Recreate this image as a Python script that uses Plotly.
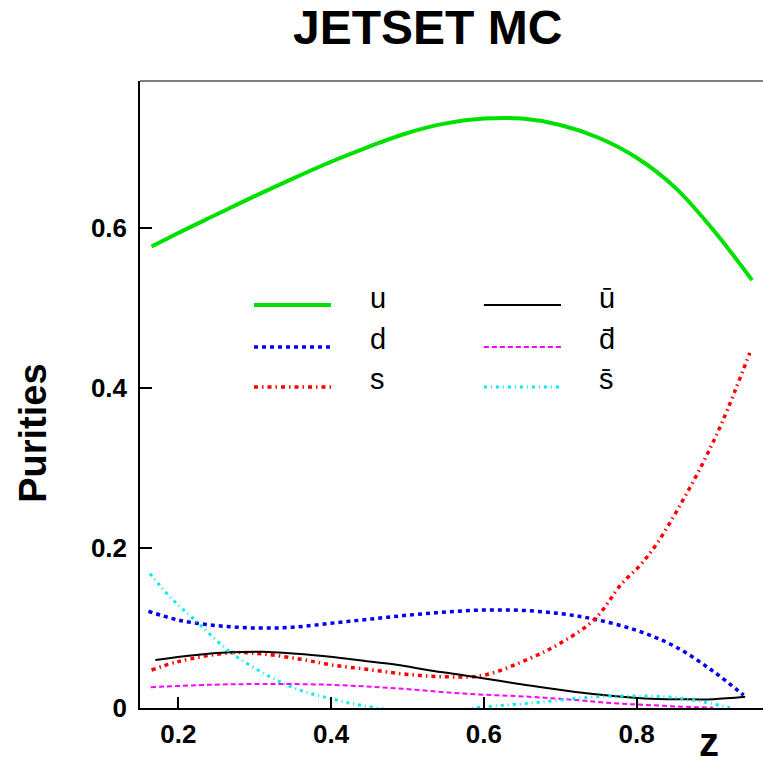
import plotly.graph_objects as go

# ---- data ----
u_x = [0.165, 0.2, 0.25, 0.3, 0.35, 0.4, 0.45, 0.5, 0.55, 0.6, 0.65, 0.7, 0.75, 0.8, 0.85, 0.9, 0.951]
u_y = [0.577, 0.594, 0.617, 0.640, 0.662, 0.683, 0.702, 0.719, 0.731, 0.737, 0.737, 0.729, 0.713, 0.688, 0.651, 0.598, 0.535]

d_x = [0.161, 0.2, 0.25, 0.303, 0.35, 0.4, 0.45, 0.5, 0.55, 0.6, 0.65, 0.7, 0.745, 0.8, 0.85, 0.9, 0.94]
d_y = [0.121, 0.110, 0.103, 0.100, 0.101, 0.106, 0.111, 0.116, 0.120, 0.1225, 0.122, 0.118, 0.111, 0.097, 0.077, 0.046, 0.016]

s_x = [0.165, 0.2, 0.268, 0.311, 0.36, 0.4, 0.45, 0.5, 0.551, 0.6, 0.66, 0.7, 0.745, 0.78, 0.804, 0.826, 0.857, 0.887, 0.913, 0.948]
s_y = [0.0475, 0.058, 0.069, 0.0675, 0.061, 0.054, 0.048, 0.042, 0.039, 0.041, 0.062, 0.081, 0.111, 0.155, 0.178, 0.205, 0.254, 0.307, 0.36, 0.444]

ubar_x = [0.17, 0.22, 0.268, 0.311, 0.35, 0.399, 0.45, 0.486, 0.53, 0.573, 0.62, 0.66, 0.72, 0.769, 0.81, 0.857, 0.9, 0.942]
ubar_y = [0.060, 0.066, 0.0696, 0.0704, 0.068, 0.064, 0.058, 0.054, 0.047, 0.041, 0.034, 0.028, 0.020, 0.015, 0.012, 0.011, 0.011, 0.014]

dbar_x = [0.164, 0.24, 0.311, 0.399, 0.486, 0.573, 0.66, 0.72, 0.769, 0.81, 0.857, 0.90]
dbar_y = [0.026, 0.029, 0.030, 0.029, 0.0246, 0.018, 0.014, 0.010, 0.006, 0.004, 0.0017, 0.0004]

sbar_x = [0.163, 0.19, 0.224, 0.268, 0.32, 0.36, 0.399, 0.43, 0.46, 0.5, 0.55, 0.588, 0.62, 0.66, 0.7, 0.748, 0.813, 0.85, 0.879, 0.922]
sbar_y = [0.168, 0.138, 0.108, 0.070, 0.039, 0.022, 0.012, 0.005, 0.0, -0.006, -0.006, 0.0, 0.003, 0.006, 0.010, 0.014, 0.015, 0.013, 0.009, 0.0004]

x_ticks = [0.2, 0.4, 0.6, 0.8]
y_ticks = [0, 0.2, 0.4, 0.6]
y_tick_labels = ["0", "0.2", "0.4", "0.6"]

series = [
    ("u", u_x, u_y, "#00e000", 4, "solid"),
    ("d", d_x, d_y, "#0000ee", 3.5, "4px,4px"),
    ("s", s_x, s_y, "#ff0000", 3.5, "4px,4px,1.5px,4px"),
    ("\u016b", ubar_x, ubar_y, "#000000", 2, "solid"),
    ("d\u0304", dbar_x, dbar_y, "#ff00ff", 2, "5px,3px"),
    ("s\u0304", sbar_x, sbar_y, "#00eeee", 3, "3px,4px,1px,4px"),
]

FONT = "Liberation Sans"

fig = go.Figure()
for name, xs, ys, col, w, dash in series:
    fig.add_trace(go.Scatter(x=xs, y=ys, mode="lines", name=name,
                             line=dict(color=col, width=w, dash=dash, shape="spline", smoothing=1.0),
                             showlegend=False, hoverinfo="skip"))

# manual legend (two columns)
leg_rows = [0.6427, 0.5758, 0.512]
leg_cols = [(0.183, 0.3066, 0.366), (0.552, 0.6758, 0.734)]
shapes = []
annotations = []
for i, (name, xs, ys, col, w, dash) in enumerate(series):
    c = i // 3
    r = i % 3
    x0, x1, xt = leg_cols[c]
    yy = leg_rows[r]
    shapes.append(dict(type="line", xref="paper", yref="paper", x0=x0, x1=x1, y0=yy, y1=yy,
                       line=dict(color=col, width=w, dash=dash)))
    annotations.append(dict(xref="paper", yref="paper", x=xt, y=yy + 0.012, text=name,
                            showarrow=False, xanchor="left", yanchor="middle",
                            font=dict(family=FONT, size=29, color="black")))

# top frame line
shapes.append(dict(type="line", xref="paper", yref="paper", x0=0, x1=1, y0=1, y1=1,
                   line=dict(color="#555555", width=1.5)))

annotations.append(dict(xref="paper", yref="paper", x=0.462, y=1.085, text="JETSET MC",
                        showarrow=False, xanchor="center", yanchor="middle",
                        font=dict(family=FONT, size=48, color="black", weight="bold")))
annotations.append(dict(xref="paper", yref="paper", x=-0.172, y=0.4386, text="Purities",
                        showarrow=False, xanchor="center", yanchor="middle", textangle=-90,
                        font=dict(family=FONT, size=38, color="black", weight="bold")))
annotations.append(dict(xref="paper", yref="paper", x=0.913, y=-0.054, text="z",
                        showarrow=False, xanchor="center", yanchor="middle",
                        font=dict(family=FONT, size=40, color="black", weight="bold")))

fig.update_layout(
    width=763, height=766,
    margin=dict(l=140, r=0, t=81, b=58),
    paper_bgcolor="white", plot_bgcolor="white",
    shapes=shapes, annotations=annotations,
    showlegend=False,
)
fig.update_xaxes(range=[0.1499, 0.9653], showgrid=False, zeroline=False,
                 showline=True, linecolor="black", linewidth=1.5,
                 ticks="inside", ticklen=11, tickwidth=1.5, tickcolor="black",
                 tickvals=x_ticks, ticktext=[str(v) for v in x_ticks], ticklabelstandoff=2,
                 tickfont=dict(family=FONT, size=26, color="black", weight="bold"))
fig.update_yaxes(range=[0, 0.784], showgrid=False, zeroline=False,
                 showline=True, linecolor="black", linewidth=1.5,
                 ticks="inside", ticklen=12, tickwidth=1.5, tickcolor="black",
                 tickvals=y_ticks, ticktext=y_tick_labels, ticklabelstandoff=6,
                 tickfont=dict(family=FONT, size=26, color="black", weight="bold"))

fig.write_html("out.html")
